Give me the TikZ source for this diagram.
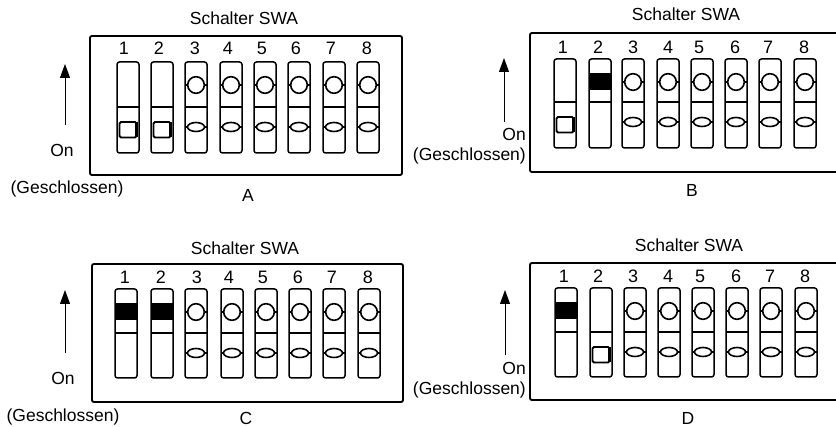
\documentclass[tikz,border=0pt]{standalone}
\usepackage{fontspec}
\setmainfont{Liberation Sans}
\usetikzlibrary{arrows.meta}
\tikzset{
  frameline/.style={draw=black,line width=1.9pt,rounded corners=2pt},
  swline/.style={draw=black,line width=1.5pt,rounded corners=2.5pt},
  divline/.style={draw=black,line width=1.5pt},
  stub/.style={draw=black,line width=2.4pt},
  lbl/.style={inner sep=0pt,font=\fontsize{17.5}{20}\selectfont,text=black},
  numlbl/.style={inner sep=0pt,font=\fontsize{18}{20}\selectfont,text=black},
  onarrow/.style={draw=black,line width=1pt,-{Triangle[length=14pt,width=10pt]}}
}
% #1 cx, #2 top, #3 div, #4 bottom
\newcommand\swbody[4]{\path[swline] (#1-11,#2) rectangle (#1+11,#4);\path[divline] (#1-11,#3) -- (#1+11,#3);}
\newcommand\swnormal[4]{\swbody{#1}{#2}{#3}{#4}
  \path[stub] (#1-11,#2+23) -- (#1-7,#2+23);
  \path[stub] (#1+7,#2+23) -- (#1+11,#2+23);
  \path[draw=black,line width=1.6pt,fill=white] (#1,#2+23) circle (8.3);
  \path[stub] (#1-11,#3+20) -- (#1-7,#3+20);
  \path[stub] (#1+7,#3+20) -- (#1+11,#3+20);
  \path[draw=black,line width=1.6pt,fill=white] (#1,#3+20) ellipse (8.5 and 4.5);}
\newcommand\swdown[4]{\swbody{#1}{#2}{#3}{#4}
  \path[draw=black,line width=1.8pt,fill=white,rounded corners=1.5pt] (#1-8.5,#3+15) rectangle (#1+8.5,#3+30.5);
  \path[stub] (#1+8.5,#3+15) -- (#1+8.5,#3+30.5);}
\newcommand\swup[4]{\swbody{#1}{#2}{#3}{#4}
  \path[fill=black] (#1-11,#2+14) rectangle (#1+11,#2+31);}
% #1 prefix, #2 top, #3 div, #4 bottom, #5 number y, #6 list cx/numx/n/kind
\newcommand\dippanel[6]{
  \foreach \cx/\nx/\n/\kind in {#6} {
    \node[numlbl] (#1n\n) at (\nx,#5) {\n};
    \csname sw\kind\endcsname{\cx}{#2}{#3}{#4}
  }
}
\begin{document}
\begin{tikzpicture}[x=1pt,y=-1pt]
\useasboundingbox (0,0) rectangle (836,427);
% A
\node[lbl] (tA) at (244,18) {Schalter SWA};
\path[frameline] (90,36) rectangle (402,175);
\dippanel{A}{62}{107}{153}{48}{128/124/1/down,162/159/2/down,196/195/3/normal,231/228/4/normal,265/262/5/normal,299/296/6/normal,334/331/7/normal,368/367/8/normal}
\node[lbl] (onA) at (62,150) {On};
\node[lbl] (gA) at (67,189) {(Geschlossen)};
\node[lbl] (lA) at (248,195) {A};
\coordinate (aAs) at (65,125); \coordinate (aAe) at (65,64);
\path[onarrow] (aAs) -- (aAe);
% B
\node[lbl] (tB) at (686,14) {Schalter SWA};
\path[frameline] (530,33) rectangle (842,172);
\dippanel{B}{59}{102}{148}{47}{565/563/1/down,600/598/2/up,633/633/3/normal,668/668/4/normal,702/699/5/normal,736/735/6/normal,770/768/7/normal,805/804/8/normal}
\node[lbl,anchor=east] (onB) at (526,134) {On};
\node[lbl,anchor=east] (gB) at (526,156) {(Geschlossen)};
\node[lbl] (lB) at (692,190) {B};
\coordinate (aBs) at (504,122); \coordinate (aBe) at (504,58);
\path[onarrow] (aBs) -- (aBe);
% C
\node[lbl] (tC) at (245,248) {Schalter SWA};
\path[frameline] (92,264) rectangle (403,402);
\dippanel{C}{289}{333}{378}{277}{126/125/1/up,162/161/2/up,196/197/3/normal,232/229/4/normal,266/263/5/normal,300/298/6/normal,334/332/7/normal,369/368/8/normal}
\node[lbl] (onC) at (63,378) {On};
\node[lbl] (gC) at (63,417) {(Geschlossen)};
\node[lbl] (lC) at (246,418) {C};
\coordinate (aCs) at (65,353); \coordinate (aCe) at (65,290);
\path[onarrow] (aCs) -- (aCe);
% D
\node[lbl] (tD) at (689,245) {Schalter SWA};
\path[frameline] (530,263) rectangle (842,400);
\dippanel{D}{288}{332}{377}{276}{566/564/1/up,601/598/2/down,635/633/3/normal,669/668/4/normal,703/700/5/normal,737/736/6/normal,771/770/7/normal,806/805/8/normal}
\node[lbl,anchor=east] (onD) at (526,368) {On};
\node[lbl,anchor=east] (gD) at (526,390) {(Geschlossen)};
\node[lbl] (lD) at (688,418) {D};
\coordinate (aDs) at (505,355); \coordinate (aDe) at (505,290);
\path[onarrow] (aDs) -- (aDe);
\end{tikzpicture}
\end{document}
